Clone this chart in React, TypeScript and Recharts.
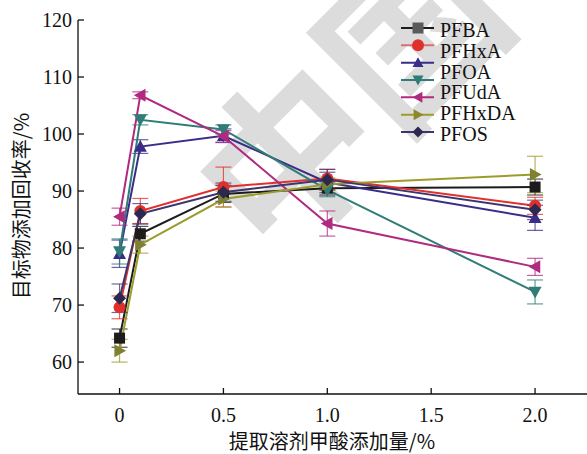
import React from "react";
import { LineChart, Line, XAxis, YAxis, ErrorBar, Label } from "recharts";

// x positions (formic acid %) and axis ticks
const X_VALUES = [0, 0.1, 0.5, 1.0, 2.0];
const X_TICKS = [0, 0.5, 1.0, 1.5, 2.0];
const Y_TICKS = [60, 70, 80, 90, 100, 110, 120];

// recoveries
const PFBA = [64.2, 82.5, 89.5, 90.5, 90.7];
const PFBA_ERR = [1.6, 1.3, 1.5, 1.2, 1.4];
const PFHXA = [69.6, 86.5, 90.7, 92.2, 87.4];
const PFHXA_ERR = [2.0, 2.2, 3.5, 1.6, 1.5];
const PFOA = [79.0, 97.8, 99.7, 91.5, 85.3];
const PFOA_ERR = [2.4, 1.2, 1.2, 1.8, 2.2];
const TEAL = [79.4, 102.5, 100.8, 90.2, 72.3];
const TEAL_ERR = [2.2, 0.9, 0.8, 1.2, 2.1];
const MAGENTA = [85.5, 106.8, 99.6, 84.3, 76.7];
const MAGENTA_ERR = [1.5, 0.6, 1.0, 2.2, 1.5];
const PFHXDA = [62.0, 80.6, 88.6, 91.2, 92.9];
const PFHXDA_ERR = [2.0, 1.5, 1.4, 1.1, 3.2];
const PFOS = [71.2, 86.0, 89.8, 92.0, 86.7];
const PFOS_ERR = [2.5, 1.8, 1.6, 1.8, 1.7];

// legend labels as printed (6 labels beside 7 markers)
const LEGEND_LABELS = ["PFBA", "PFHxA", "PFOA", "PFUdA", "PFHxDA", "PFOS"];

const SERIES = [
  { key: "PFBA", values: PFBA, err: PFBA_ERR, color: "#1c1c1c", mark: "#1c1c1c", legMark: "#5a5a5a", legLine: "#1c1c1c", shape: "square" },
  { key: "PFHxA", values: PFHXA, err: PFHXA_ERR, color: "#e0302c", mark: "#e0302c", legMark: "#e0302c", legLine: "#d87070", shape: "circle" },
  { key: "PFOA", values: PFOA, err: PFOA_ERR, color: "#3a2d8a", mark: "#3a2d8a", legMark: "#3a2d8a", legLine: "#3a2d8a", shape: "up" },
  { key: "S4", values: TEAL, err: TEAL_ERR, color: "#2f7d76", mark: "#2f7d76", legMark: "#2f7d76", legLine: "#2f7d76", shape: "down" },
  { key: "S5", values: MAGENTA, err: MAGENTA_ERR, color: "#b02a80", mark: "#b02a80", legMark: "#b02a80", legLine: "#b02a80", shape: "left" },
  { key: "S6", values: PFHXDA, err: PFHXDA_ERR, color: "#9c9c2c", mark: "#7f8030", legMark: "#8a8a2c", legLine: "#9c9c2c", shape: "right" },
  { key: "PFOS", values: PFOS, err: PFOS_ERR, color: "#3d3570", mark: "#2c284f", legMark: "#2c284f", legLine: "#3d3570", shape: "diamond" },
];

const data = X_VALUES.map((x, i) => {
  const row: any = { x };
  SERIES.forEach((s) => {
    row[s.key] = s.values[i];
    row[s.key + "_err"] = s.err[i];
  });
  return row;
});

function Marker({ shape, cx, cy, fill, r = 6.5 }: any) {
  const h = r * 0.8;
  switch (shape) {
    case "square":
      return <rect x={cx - 5.5} y={cy - 5.5} width={11} height={11} fill={fill} />;
    case "circle":
      return <circle cx={cx} cy={cy} r={6} fill={fill} />;
    case "up":
      return <polygon points={`${cx},${cy - r} ${cx - r},${cy + h} ${cx + r},${cy + h}`} fill={fill} />;
    case "down":
      return <polygon points={`${cx},${cy + r} ${cx - r},${cy - h} ${cx + r},${cy - h}`} fill={fill} />;
    case "left":
      return <polygon points={`${cx - r},${cy} ${cx + h},${cy - r} ${cx + h},${cy + r}`} fill={fill} />;
    case "right":
      return <polygon points={`${cx + r},${cy} ${cx - h},${cy - r} ${cx - h},${cy + r}`} fill={fill} />;
    default:
      return <polygon points={`${cx},${cy - r} ${cx + r},${cy} ${cx},${cy + r} ${cx - r},${cy}`} fill={fill} />;
  }
}

const makeDot = (shape: string, fill: string) => (props: any) => {
  const { cx, cy, index } = props;
  if (cx == null || cy == null) return <g key={index} />;
  return (
    <g key={`dot-${shape}-${index}`}>
      <Marker shape={shape} cx={cx} cy={cy} fill={fill} />
    </g>
  );
};

const SERIF = "'Liberation Serif', 'Times New Roman', serif";
const CJK = "'Noto Sans CJK SC', sans-serif";

function Legend7() {
  const top = 28;
  const bottom = 132;
  const markStep = (bottom - top) / (SERIES.length - 1);
  const labelStep = (bottom - top) / (LEGEND_LABELS.length - 1);
  return (
    <svg width={587} height={454} style={{ position: "absolute", left: 0, top: 0, pointerEvents: "none" }}>
      {SERIES.map((s, i) => {
        const y = top + i * markStep;
        return (
          <g key={s.key}>
            <line x1={401} x2={434} y1={y} y2={y} stroke={s.legLine} strokeWidth={2} />
            <Marker shape={s.shape} cx={418} cy={y} fill={s.legMark} r={5.5} />
          </g>
        );
      })}
      {LEGEND_LABELS.map((t, i) => (
        <text key={t} x={440} y={top + 2 + i * labelStep} dominantBaseline="central" fontFamily={SERIF} fontSize={20} fill="#111">
          {t}
        </text>
      ))}
    </svg>
  );
}

function Watermark() {
  return (
    <svg width={587} height={454} style={{ position: "absolute", left: 0, top: 0 }}>
      <text
        x={280}
        y={150}
        transform="rotate(-45 280 150)"
        textAnchor="start"
        dominantBaseline="central"
        fontFamily={CJK}
        fontWeight={700}
        fontSize={175}
        fill="#dcdcdc"
      >
        <tspan dx={-87}>中国</tspan>
      </text>
    </svg>
  );
}

export default function App() {
  return (
    <div style={{ position: "absolute", left: 0, top: 0, width: 587, height: 454, background: "#fff" }}>
      <Watermark />
      <div style={{ position: "absolute", left: 0, top: 0 }}>
        <LineChart width={587} height={454} data={data} margin={{ top: 20, right: 0, left: 18, bottom: 30 }}>
          <XAxis
            dataKey="x"
            type="number"
            domain={[-0.2, 2.25]}
            ticks={X_TICKS}
            allowDataOverflow
            tickFormatter={(v: number) => (v === 0 ? "0" : v.toFixed(1))}
            axisLine={{ stroke: "#111", strokeWidth: 1.3 }}
            tickLine={{ stroke: "#111", strokeWidth: 1.3 }}
            tickSize={-6}
            tickMargin={20}
            tick={{ fill: "#111", fontFamily: SERIF, fontSize: 20 }}
            height={30}
          >
            <Label
              content={() => (
                <text x={332} y={440} textAnchor="middle" dominantBaseline="central" fontFamily={CJK} fontSize={20} fill="#111">
                  提取溶剂甲酸添加量/%
                </text>
              )}
            />
          </XAxis>
          <YAxis
            type="number"
            domain={[54.4, 120]}
            ticks={Y_TICKS}
            allowDataOverflow
            axisLine={{ stroke: "#111", strokeWidth: 1.3 }}
            tickLine={{ stroke: "#111", strokeWidth: 1.3 }}
            tickSize={-6}
            tickMargin={12}
            tick={{ fill: "#111", fontFamily: SERIF, fontSize: 20 }}
            width={60}
          >
            <Label
              content={() => (
                <text
                  x={20}
                  y={206}
                  transform="rotate(-90 20 206)"
                  textAnchor="middle"
                  dominantBaseline="central"
                  fontFamily={CJK}
                  fontSize={20}
                  fill="#111"
                >
                  目标物添加回收率/%
                </text>
              )}
            />
          </YAxis>
          {SERIES.map((s) => (
            <Line
              key={s.key}
              dataKey={s.key}
              type="linear"
              stroke={s.color}
              strokeWidth={2}
              dot={makeDot(s.shape, s.mark)}
              activeDot={false}
              isAnimationActive={false}
            >
              <ErrorBar dataKey={s.key + "_err"} direction="y" width={8} stroke={s.color} strokeWidth={1.2} strokeOpacity={0.75} />
            </Line>
          ))}
        </LineChart>
      </div>
      <Legend7 />
    </div>
  );
}
